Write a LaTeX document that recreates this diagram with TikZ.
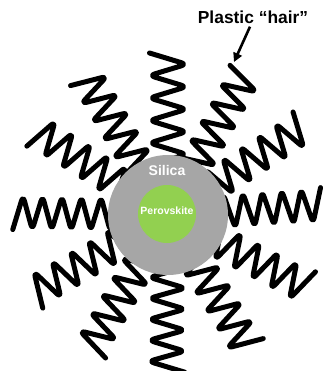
\documentclass[tikz,border=0pt]{standalone}
\usepackage{fontspec}
\setmainfont{Liberation Sans}
\usetikzlibrary{arrows.meta}

\definecolor{silicagray}{HTML}{A6A6A6}
\definecolor{perovgreen}{HTML}{92D050}

% One polymer "hair": a rounded zigzag pointing outward from the particle centre.
% #1 direction (deg), #2 outer radius, #3 period, #4 amplitude
\newcommand{\hairat}[4]{%
  \begin{scope}[shift={(centre)}, x=1pt, y=1pt, rotate=#1]
    \draw[hairline] (#2,#4)
      \foreach \k in {1,...,12} { -- ({#2-\k*#3/2},{#4*cos(180*\k)}) };
  \end{scope}}

\begin{document}
\begin{tikzpicture}[x=1pt, y=-1pt,
  hairline/.style={line width=5pt, line cap=round, line join=round, rounded corners=5.5pt},
  pointer/.style={line width=2.6pt, -{Triangle[length=9pt,width=9pt]}},
  caption/.style={font=\bfseries\fontsize{17.4}{20}\selectfont, inner sep=0pt, anchor=base},
  shelllabel/.style={font=\bfseries\fontsize{14}{16}\selectfont, text=white, inner sep=0pt, anchor=base},
  corelabel/.style={font=\bfseries\fontsize{10.5}{12}\selectfont, text=white, inner sep=0pt, anchor=base}]
\useasboundingbox (0,0) rectangle (324,371);
\coordinate (centre) at (168,215);

% hairs around the particle
\hairat{90}{162}{22.5}{18.5}
\hairat{61.1}{161}{21}{18}
\hairat{33.1}{161}{21}{18}
\hairat{3.7}{154}{19.5}{17.5}
\hairat{-27.6}{157}{21}{18}
\hairat{-59}{155}{21}{18}
\hairat{-90.5}{157}{21}{18}
\hairat{-120.2}{155}{21}{18}
\hairat{-150}{155}{21}{18}
\hairat{179.1}{155}{19.5}{17}
\hairat{147.4}{156}{21}{18}
\hairat{120.6}{161}{21}{18}

% silica shell and perovskite core
\fill[silicagray] (centre) circle[radius=60];
\fill[perovgreen] (167,214) circle[radius=29];
\node[shelllabel] (silica) at (167,175.5) {Silica};
\node[corelabel] (perovskite) at (167,214.5) {Perovskite};

% caption with pointer to one hair
\node[caption] (label) at (253,23.3) {Plastic “hair”};
\coordinate (hairtip) at (234,62);
\draw[pointer] ([xshift=-3pt,yshift=-3pt]label.south) -- (hairtip);
\end{tikzpicture}
\end{document}
